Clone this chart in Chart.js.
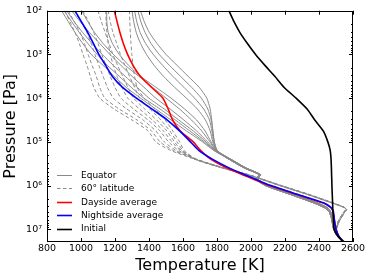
<!DOCTYPE html>
<html><head><meta charset="utf-8">
<script src="https://cdn.jsdelivr.net/npm/chart.js@4.4.0/dist/chart.umd.min.js"></script>
<style>html,body{margin:0;padding:0;background:#fff}canvas{display:block}</style>
</head><body>
<canvas id="c" width="374" height="280"></canvas>
<script>
// Pressure levels [Pa] shared by all profiles (top to bottom)
const pressureLevels = [100, 178, 316, 562, 1000, 1778, 3162, 5623, 10000, 17783, 31623, 56234,
  100000, 158489, 251189, 398107, 562341, 707946, 1000000, 1584893, 2511886, 3162278, 3548134,
  3981072, 5011872, 6309573, 10000000, 14125375, 19500000];

// Temperature [K] at each pressure level
const initialT   = [1870, 1900, 1935, 1979, 2027, 2082, 2140, 2194, 2265, 2330, 2375, 2425, 2452, 2466, 2471, 2473, 2474, 2475, 2476, 2478, 2480, 2481, 2481, 2482, 2484, 2485, 2489, 2510, 2550];
const daysideT   = [1196, 1212, 1229, 1249, 1274, 1306, 1349, 1414, 1482, 1513, 1539, 1584, 1660, 1705, 1765, 1860, 1950, 2012, 2108, 2268, 2425, 2468, 2478, 2483, 2487, 2491, 2500, 2515, 2541];
const nightsideT = [964, 1002, 1040, 1073, 1105, 1145, 1184, 1243, 1326, 1418, 1508, 1580, 1644, 1694, 1775, 1874, 1963, 2024, 2117, 2271, 2430, 2470, 2480, 2485, 2488, 2491, 2500, 2515, 2541];

const equatorT = [
  [886, 925, 965, 1010, 1060, 1130, 1195, 1265, 1350, 1440, 1530, 1620, 1715, 1782, 1872, 1962, 2048, 2030, 2085, 2230, 2372, 2430, 2448, 2460, 2470, 2476, 2486, 2506, 2540],
  [900, 945, 990, 1040, 1095, 1155, 1225, 1295, 1370, 1465, 1555, 1640, 1725, 1786, 1882, 1972, 2056, 2040, 2098, 2248, 2392, 2446, 2460, 2468, 2477, 2481, 2489, 2508, 2542],
  [916, 960, 1010, 1065, 1125, 1190, 1260, 1330, 1400, 1490, 1575, 1660, 1735, 1789, 1872, 1962, 2048, 2030, 2085, 2230, 2372, 2430, 2448, 2460, 2470, 2476, 2486, 2506, 2540],
  [945, 995, 1050, 1110, 1170, 1235, 1300, 1370, 1440, 1525, 1605, 1680, 1745, 1792, 1882, 1972, 2056, 2040, 2098, 2248, 2392, 2446, 2460, 2468, 2477, 2481, 2489, 2508, 2542],
  [1004, 1040, 1080, 1130, 1190, 1260, 1340, 1420, 1500, 1580, 1650, 1710, 1758, 1795, 1872, 1962, 2048, 2030, 2085, 2230, 2372, 2430, 2448, 2460, 2470, 2476, 2486, 2506, 2540],
  [1151, 1152, 1160, 1185, 1225, 1280, 1350, 1440, 1530, 1610, 1680, 1730, 1765, 1795, 1882, 1972, 2056, 2040, 2098, 2248, 2392, 2446, 2460, 2468, 2477, 2481, 2489, 2508, 2542],
  [1300, 1310, 1325, 1350, 1385, 1430, 1485, 1550, 1620, 1685, 1732, 1760, 1775, 1798, 1872, 1962, 2048, 2030, 2085, 2230, 2372, 2430, 2448, 2460, 2470, 2476, 2486, 2506, 2540],
  [1315, 1328, 1348, 1380, 1425, 1480, 1540, 1605, 1668, 1722, 1756, 1770, 1780, 1800, 1882, 1972, 2056, 2040, 2098, 2248, 2392, 2446, 2460, 2468, 2477, 2481, 2489, 2508, 2542],
  [1335, 1352, 1377, 1412, 1460, 1520, 1585, 1650, 1708, 1746, 1766, 1775, 1783, 1800, 1872, 1962, 2048, 2030, 2085, 2230, 2372, 2430, 2448, 2460, 2470, 2476, 2486, 2506, 2540],
  [1350, 1372, 1402, 1447, 1500, 1565, 1630, 1695, 1740, 1760, 1769, 1776, 1785, 1802, 1882, 1972, 2056, 2040, 2098, 2248, 2392, 2446, 2460, 2468, 2477, 2481, 2489, 2508, 2542]
];

const lat60T = [
  [905, 935, 965, 990, 1012, 1035, 1055, 1075, 1110, 1195, 1300, 1395, 1440, 1530, 1672, 1835, 1978, 2058, 2170, 2330, 2478, 2548, 2563, 2552, 2537, 2521, 2503, 2515, 2545],
  [925, 960, 995, 1020, 1042, 1065, 1090, 1110, 1140, 1225, 1330, 1415, 1465, 1545, 1680, 1842, 1985, 2063, 2178, 2338, 2485, 2550, 2560, 2546, 2530, 2515, 2500, 2514, 2545],
  [960, 1000, 1035, 1060, 1082, 1105, 1130, 1155, 1190, 1270, 1365, 1440, 1490, 1560, 1672, 1835, 1978, 2058, 2170, 2330, 2478, 2548, 2563, 2552, 2537, 2521, 2503, 2515, 2545],
  [1010, 1045, 1075, 1100, 1122, 1147, 1172, 1200, 1235, 1310, 1395, 1465, 1515, 1575, 1680, 1842, 1985, 2063, 2178, 2338, 2485, 2550, 2560, 2546, 2530, 2515, 2500, 2514, 2545],
  [1145, 1148, 1152, 1160, 1172, 1190, 1212, 1240, 1275, 1345, 1420, 1485, 1535, 1585, 1672, 1835, 1978, 2058, 2170, 2330, 2478, 2548, 2563, 2552, 2537, 2521, 2503, 2515, 2545],
  [1100, 1120, 1142, 1165, 1188, 1215, 1245, 1275, 1310, 1375, 1445, 1505, 1550, 1592, 1680, 1842, 1985, 2063, 2178, 2338, 2485, 2550, 2560, 2546, 2530, 2515, 2500, 2514, 2545],
  [1160, 1172, 1188, 1210, 1232, 1258, 1285, 1315, 1345, 1405, 1470, 1522, 1565, 1600, 1672, 1835, 1978, 2058, 2170, 2330, 2478, 2548, 2563, 2552, 2537, 2521, 2503, 2515, 2545],
  [1285, 1287, 1290, 1294, 1299, 1306, 1315, 1330, 1370, 1435, 1495, 1540, 1580, 1608, 1680, 1842, 1985, 2063, 2178, 2338, 2485, 2550, 2560, 2546, 2530, 2515, 2500, 2514, 2545]
];

const xTickValues = [800, 1000, 1200, 1400, 1600, 1800, 2000, 2200, 2400, 2600];
const yTickValues = [1e2, 1e3, 1e4, 1e5, 1e6, 1e7];
const legendLabels = ['Equator', '60\u00b0 latitude', 'Dayside average', 'Nightside average', 'Initial'];

const GRAY = '#8a8a8a';
const FONT = "'DejaVu Sans', sans-serif";
const SUP = {2:'\u00b2',3:'\u00b3',4:'\u2074',5:'\u2075',6:'\u2076',7:'\u2077'};

function profile(T) { return T.map((t, i) => ({x: t, y: pressureLevels[i]})); }

const datasets = [];
datasets.push({data: profile(initialT), borderColor: '#000', borderWidth: 1.6, order: 0});
datasets.push({data: profile(nightsideT), borderColor: '#0000ff', borderWidth: 1.6, order: 1});
datasets.push({data: profile(daysideT), borderColor: '#ff0000', borderWidth: 1.6, order: 2});
equatorT.forEach(T => datasets.push({data: profile(T), borderColor: GRAY, borderWidth: 1, order: 3}));
lat60T.forEach(T => datasets.push({data: profile(T), borderColor: GRAY, borderWidth: 1, borderDash: [3.5, 2.5], order: 4}));

const legendStyles = [
  {color: GRAY, width: 1, dash: []},
  {color: GRAY, width: 1, dash: [3.5, 2.5]},
  {color: '#ff0000', width: 1.6, dash: []},
  {color: '#0000ff', width: 1.6, dash: []},
  {color: '#000', width: 1.6, dash: []}
];

const decor = {
  id: 'decor',
  afterDatasetsDraw(chart) {
    const {ctx, chartArea: a, scales: {x, y}} = chart;
    ctx.save();
    ctx.strokeStyle = '#000';
    ctx.lineWidth = 1;
    ctx.setLineDash([]);
    ctx.beginPath();
    xTickValues.forEach(v => {
      const px = Math.round(x.getPixelForValue(v)) + 0.5;
      ctx.moveTo(px, a.bottom); ctx.lineTo(px, a.bottom - 4);
      ctx.moveTo(px, a.top); ctx.lineTo(px, a.top + 4);
    });
    yTickValues.forEach(v => {
      const py = Math.round(y.getPixelForValue(v)) + 0.5;
      ctx.moveTo(a.left, py); ctx.lineTo(a.left + 4, py);
      ctx.moveTo(a.right, py); ctx.lineTo(a.right - 4, py);
    });
    yTickValues.forEach(v => {
      for (let m = 2; m <= 9; m++) {
        const val = v * m;
        if (val > y.max) continue;
        const py = Math.round(y.getPixelForValue(val)) + 0.5;
        ctx.moveTo(a.left, py); ctx.lineTo(a.left + 2, py);
        ctx.moveTo(a.right, py); ctx.lineTo(a.right - 2, py);
      }
    });
    ctx.stroke();
    ctx.strokeRect(Math.round(a.left) + 0.5, Math.round(a.top) + 0.5,
      Math.round(a.right) - Math.round(a.left) - 1, Math.round(a.bottom) - Math.round(a.top) - 1);

    // legend
    const x0 = a.left + 10, x1 = a.left + 25, tx = a.left + 34;
    let ly = a.bottom - 67;
    ctx.font = '9px ' + FONT;
    ctx.textBaseline = 'middle';
    ctx.textAlign = 'left';
    legendLabels.forEach((lab, i) => {
      const s = legendStyles[i];
      ctx.strokeStyle = s.color; ctx.lineWidth = s.width; ctx.setLineDash(s.dash);
      ctx.beginPath(); ctx.moveTo(x0, Math.round(ly) + 0.5); ctx.lineTo(x1, Math.round(ly) + 0.5); ctx.stroke();
      ctx.fillStyle = '#000';
      ctx.fillText(lab, tx, ly + 0.5);
      ly += 13.4;
    });
    ctx.restore();
  }
};

new Chart(document.getElementById('c'), {
  type: 'line',
  data: {datasets},
  plugins: [decor],
  options: {
    responsive: false,
    animation: false,
    layout: {padding: {top: 10.5, right: 21, left: 0, bottom: 0}},
    elements: {point: {radius: 0}, line: {tension: 0.2, fill: false}},
    plugins: {legend: {display: false}, tooltip: {enabled: false}},
    scales: {
      x: {
        type: 'linear', min: 800, max: 2600,
        grid: {display: false, drawTicks: false},
        border: {display: false},
        ticks: {autoSkip: false, maxRotation: 0, padding: 1, color: '#000', font: {family: FONT, size: 9.5},
          callback: v => String(v)},
        afterBuildTicks(s) { s.ticks = xTickValues.map(v => ({value: v})); },
        title: {display: true, text: 'Temperature [K]', color: '#000', font: {family: FONT, size: 16}, padding: {top: 0, bottom: 5}},
        afterFit(s) { s.height = 38; }
      },
      y: {
        type: 'logarithmic', reverse: true, min: 100, max: 19500000,
        grid: {display: false, drawTicks: false},
        border: {display: false},
        afterBuildTicks(s) { s.ticks = yTickValues.map(v => ({value: v})); },
        ticks: {padding: 5, color: '#000', font: {family: FONT, size: 9.5},
          callback: v => '10' + SUP[Math.round(Math.log10(v))]},
        title: {display: true, text: 'Pressure [Pa]', color: '#000', font: {family: FONT, size: 16}, padding: {top: 1.5, bottom: 0}},
        afterFit(s) { s.width = 47; }
      }
    }
  }
});
</script>
</body></html>
